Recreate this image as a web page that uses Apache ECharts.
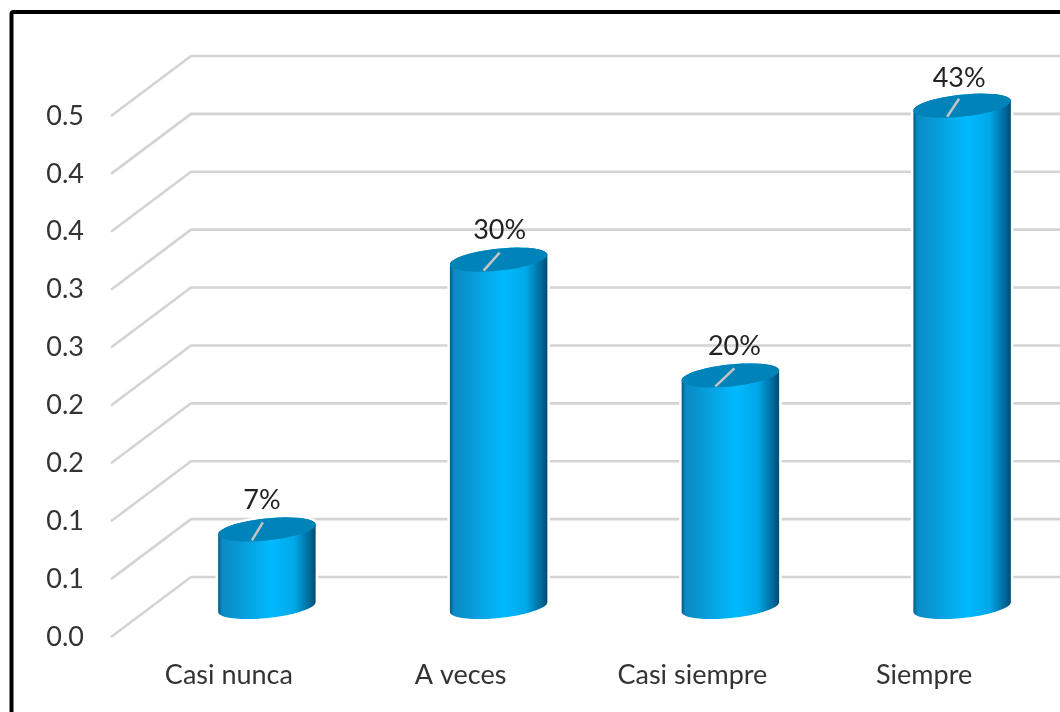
<!DOCTYPE html>
<html><head><meta charset="utf-8">
<style>html,body{margin:0;padding:0;background:#fff}#c{width:1060px;height:712px}</style>
<script src="https://cdn.jsdelivr.net/npm/echarts@6/dist/echarts.min.js"></script>
</head><body><div id="c"></div>
<script>
const categories = ['Casi nunca', 'A veces', 'Casi siempre', 'Siempre'];
const values = [0.067, 0.30, 0.20, 0.433];
const percentLabels = ['7%', '30%', '20%', '43%'];
const gridValues = [0, 0.05, 0.10, 0.15, 0.20, 0.25, 0.30, 0.35, 0.40, 0.45];
const tickLabels = ['0.0', '0.1', '0.1', '0.2', '0.2', '0.3', '0.3', '0.4', '0.4', '0.5'];

const FONT = 'Lato';
const TILT = -6 * Math.PI / 180;
function ellipsePoint(cx, cy, a, b, t) {
  return [
    cx + a * Math.cos(t) * Math.cos(TILT) - b * Math.sin(t) * Math.sin(TILT),
    cy + a * Math.cos(t) * Math.sin(TILT) + b * Math.sin(t) * Math.cos(TILT)
  ];
}
function arc(cx, cy, a, b, from, to) {
  const pts = [];
  for (let i = 0; i <= 48; i++) pts.push(ellipsePoint(cx, cy, a, b, from + (to - from) * i / 48));
  return pts;
}

function renderWall(params, api) {
  const v = api.value(0);
  const p = api.coord([0, v]);
  const band = api.size([1, 0])[0];
  const left = p[0] - band / 2 - 2;
  const backX = left + 80;
  const backY = p[1] - 60;
  return {
    type: 'polyline',
    shape: { points: [[left, p[1]], [backX, backY], [backX + band * 4 + 100, backY]] },
    style: { stroke: '#d4d4d4', lineWidth: 2.6, fill: null }
  };
}

function renderBar(params, api) {
  const idx = api.value(0);
  const val = api.value(1);
  const base = api.coord([idx, 0]);
  const top = api.coord([idx, val]);
  const dx = 38, dy = -30, a = 49, b = 11;
  const cx = base[0] + dx;
  const by = base[1] + dy;
  const ty = top[1] + dy;
  const lean = [-4, 1, 4, -3][idx];
  const body = arc(cx, by, a, b, 0, Math.PI).concat(arc(cx, ty, a, b, Math.PI, 2 * Math.PI));
  const grad = new echarts.graphic.LinearGradient(0, 0, 1, 0, [
    { offset: 0, color: '#005c88' },
    { offset: 0.04, color: '#0a8ac4' },
    { offset: 0.3, color: '#06a2e0' },
    { offset: 0.55, color: '#00baff' },
    { offset: 0.78, color: '#00a8e8' },
    { offset: 0.94, color: '#00689a' },
    { offset: 1, color: '#004a72' }
  ]);
  return {
    type: 'group',
    children: [
      { type: 'polygon', shape: { points: body }, style: { fill: grad, stroke: '#fff', lineWidth: 5 } },
      { type: 'polygon', shape: { points: body }, style: { fill: grad } },
      { type: 'polygon', shape: { points: arc(cx, ty, a, b, 0, 2 * Math.PI) }, style: { fill: '#0083b9' } },
      { type: 'line', shape: { x1: cx - 15, y1: ty + 11, x2: cx + lean, y2: ty - 7 },
        style: { stroke: '#c4c4c4', lineWidth: 2.5 } },
      { type: 'text', style: {
          text: percentLabels[idx], x: cx + [-5, 1, 4, -3][idx], y: ty - [29, 29, 29, 27][idx],
          align: 'center', verticalAlign: 'middle',
          font: '27px ' + FONT, fill: '#222'
        } }
    ]
  };
}

const chart = echarts.init(document.getElementById('c'), null, { renderer: 'canvas' });
chart.setOption({
  animation: false,
  backgroundColor: '#fff',
  graphic: [{
    type: 'rect', z: 100, silent: true,
    shape: { x: 11.5, y: 12, width: 1200, height: 900, r: 2 },
    style: { fill: null, stroke: '#000', lineWidth: 4 }
  }],
  grid: { left: 113, right: 20, top: 116, bottom: 75 },
  xAxis: {
    type: 'category', data: categories,
    axisLine: { show: false }, axisTick: { show: false },
    axisLabel: { color: '#333', fontFamily: FONT, fontSize: 27, margin: 25 }
  },
  yAxis: {
    type: 'value', min: 0, max: 0.45, interval: 0.05,
    splitLine: { show: false }, axisLine: { show: false }, axisTick: { show: false },
    axisLabel: {
      color: '#333', fontFamily: FONT, fontSize: 27, margin: 29,
      padding: [0, 0, 10, 0],
      formatter: (v) => tickLabels[Math.round(v / 0.05)]
    }
  },
  series: [
    { type: 'custom', renderItem: renderWall, data: gridValues.map(v => [v]), encode: { y: 0 }, z: 1, silent: true },
    { type: 'custom', renderItem: renderBar, data: values.map((v, i) => [i, v]), encode: { x: 0, y: 1 }, z: 2, silent: true }
  ]
});
</script></body></html>
